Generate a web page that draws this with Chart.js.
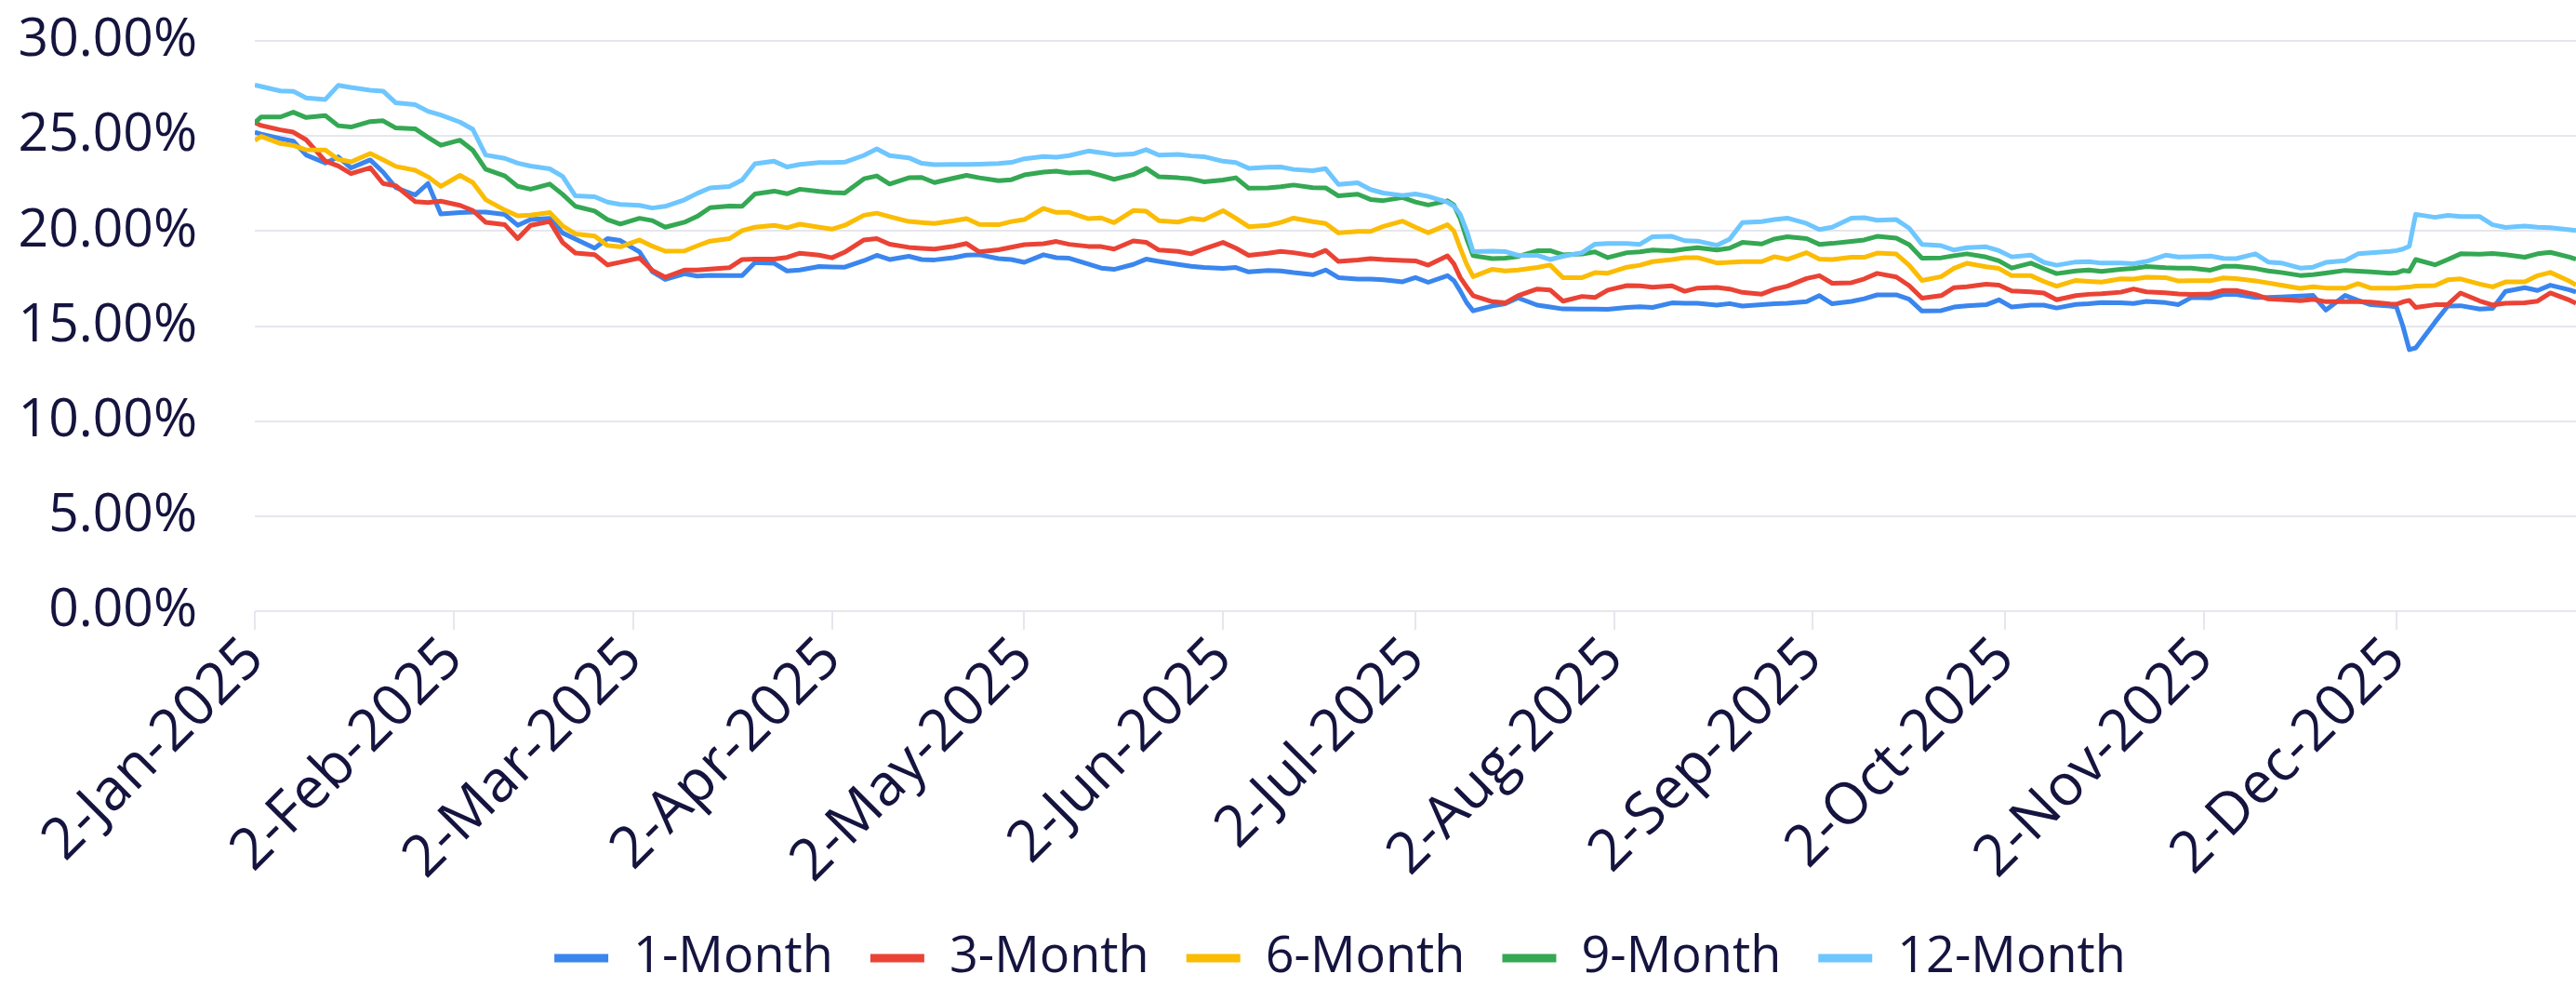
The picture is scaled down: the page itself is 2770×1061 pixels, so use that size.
<!DOCTYPE html>
<html>
<head>
<meta charset="utf-8">
<title>Rates 2025</title>
<script src="https://cdn.jsdelivr.net/npm/chart.js@4.4.1/dist/chart.umd.min.js"></script>
<style>
  html, body { margin: 0; padding: 0; background: #ffffff; }
  #wrap { width: 2770px; height: 1061px; position: relative; }
</style>
</head>
<body>
<div id="wrap"><canvas id="rateChart"></canvas></div>
<script>
// Observation dates (business days, sampled)
const dates = [
  '2025-01-02','2025-01-03','2025-01-06','2025-01-08','2025-01-10','2025-01-13','2025-01-15','2025-01-17','2025-01-20','2025-01-22',
  '2025-01-24','2025-01-27','2025-01-29','2025-01-31','2025-02-03','2025-02-05','2025-02-07','2025-02-10','2025-02-12','2025-02-14',
  '2025-02-17','2025-02-19','2025-02-21','2025-02-24','2025-02-26','2025-02-28','2025-03-03',
  '2025-03-05','2025-03-07','2025-03-10','2025-03-12','2025-03-14','2025-03-17','2025-03-19','2025-03-21','2025-03-24','2025-03-26',
  '2025-03-28','2025-03-31','2025-04-02','2025-04-04','2025-04-07','2025-04-09','2025-04-11','2025-04-14','2025-04-16','2025-04-18',
  '2025-04-21','2025-04-23','2025-04-25','2025-04-28','2025-04-30','2025-05-02',
  '2025-05-05','2025-05-07','2025-05-09','2025-05-12','2025-05-14','2025-05-16','2025-05-19','2025-05-21','2025-05-23','2025-05-26',
  '2025-05-28','2025-05-30','2025-06-02','2025-06-04','2025-06-06','2025-06-09','2025-06-11','2025-06-13','2025-06-16','2025-06-18',
  '2025-06-20','2025-06-23','2025-06-25','2025-06-27','2025-06-30','2025-07-02',
  '2025-07-04','2025-07-07','2025-07-08','2025-07-09','2025-07-10','2025-07-11','2025-07-14','2025-07-16','2025-07-18','2025-07-21',
  '2025-07-23','2025-07-25','2025-07-28','2025-07-30','2025-08-01','2025-08-04','2025-08-06','2025-08-08','2025-08-11','2025-08-13',
  '2025-08-15','2025-08-18','2025-08-20','2025-08-22','2025-08-25','2025-08-27','2025-08-29','2025-09-01',
  '2025-09-03','2025-09-05','2025-09-08','2025-09-10','2025-09-12','2025-09-15','2025-09-17','2025-09-19','2025-09-22','2025-09-24',
  '2025-09-26','2025-09-29','2025-10-01','2025-10-03','2025-10-06','2025-10-08','2025-10-10','2025-10-13','2025-10-15','2025-10-17',
  '2025-10-20','2025-10-22','2025-10-24','2025-10-27','2025-10-29','2025-10-31',
  '2025-11-03','2025-11-05','2025-11-07','2025-11-10','2025-11-12','2025-11-14','2025-11-17','2025-11-19','2025-11-21','2025-11-24',
  '2025-11-26','2025-11-28','2025-12-01','2025-12-02','2025-12-03','2025-12-04','2025-12-05','2025-12-08','2025-12-10','2025-12-12',
  '2025-12-15','2025-12-17','2025-12-19','2025-12-22','2025-12-24','2025-12-26','2025-12-29','2025-12-30'
];

// Rates in percent, one value per date
const oneMonth = [
  25.2, 25.1, 24.86, 24.73, 24.0, 23.58, 23.9, 23.32, 23.74, 23.1, 22.28, 21.9, 22.5, 20.9, 20.97, 21.0, 21.0, 20.87, 20.3, 20.6,
  20.67, 19.9, 19.58, 19.1, 19.6, 19.5, 18.9,
  17.86, 17.45, 17.75, 17.63, 17.67, 17.65, 17.65, 18.34, 18.3, 17.9, 17.95, 18.13, 18.11, 18.1, 18.44, 18.72, 18.5, 18.67, 18.5, 18.48,
  18.6, 18.73, 18.75, 18.55, 18.5, 18.35,
  18.75, 18.6, 18.57, 18.26, 18.05, 17.98, 18.24, 18.52, 18.4, 18.24, 18.14, 18.08, 18.04, 18.08, 17.85, 17.92, 17.9, 17.81, 17.7, 17.95,
  17.55, 17.47, 17.47, 17.43, 17.33, 17.55,
  17.3, 17.65, 17.39, 16.84, 16.23, 15.8, 16.06, 16.17, 16.48, 16.1, 16.0, 15.9, 15.89, 15.89, 15.88, 15.98, 16.02, 15.98, 16.22, 16.2,
  16.2, 16.1, 16.18, 16.05, 16.12, 16.17, 16.2, 16.28,
  16.6, 16.17, 16.3, 16.44, 16.64, 16.64, 16.41, 15.79, 15.81, 16.0, 16.06, 16.12, 16.38, 16.0, 16.1, 16.1, 15.95, 16.14, 16.17, 16.24,
  16.22, 16.19, 16.3, 16.23, 16.13, 16.5,
  16.48, 16.66, 16.66, 16.5, 16.5, 16.53, 16.58, 16.61, 15.84, 16.61, 16.35, 16.12, 16.05, 16.0, 15.0, 13.76, 13.85, 15.2, 16.05, 16.07,
  15.89, 15.93, 16.82, 17.02, 16.87, 17.15, 16.9, 16.79
];
const threeMonth = [
  25.7, 25.55, 25.32, 25.2, 24.8, 23.68, 23.42, 23.02, 23.33, 22.5, 22.38, 21.55, 21.5, 21.57, 21.35, 21.08, 20.46, 20.33, 19.6, 20.3,
  20.5, 19.4, 18.84, 18.76, 18.22, 18.36, 18.58,
  17.93, 17.57, 17.95, 17.95, 18.0, 18.07, 18.5, 18.52, 18.52, 18.61, 18.83, 18.73, 18.59, 18.89, 19.53, 19.6, 19.31, 19.14, 19.09, 19.05,
  19.2, 19.34, 18.9, 19.01, 19.15, 19.28,
  19.33, 19.45, 19.3, 19.19, 19.18, 19.05, 19.48, 19.41, 19.0, 18.93, 18.8, 19.06, 19.4, 19.1, 18.72, 18.83, 18.93, 18.86, 18.7, 18.98,
  18.4, 18.47, 18.55, 18.5, 18.45, 18.43,
  18.2, 18.69, 18.27, 17.55, 17.06, 16.6, 16.28, 16.22, 16.6, 16.95, 16.9, 16.31, 16.56, 16.5, 16.89, 17.13, 17.12, 17.04, 17.12, 16.83,
  17.0, 17.03, 16.95, 16.77, 16.68, 16.94, 17.1, 17.5,
  17.65, 17.25, 17.28, 17.48, 17.77, 17.58, 17.13, 16.47, 16.6, 17.02, 17.07, 17.2, 17.15, 16.85, 16.8, 16.74, 16.38, 16.6, 16.67, 16.7,
  16.78, 16.95, 16.8, 16.75, 16.69, 16.67,
  16.69, 16.87, 16.87, 16.66, 16.43, 16.39, 16.33, 16.41, 16.28, 16.28, 16.29, 16.26, 16.16, 16.15, 16.27, 16.35, 15.98, 16.12, 16.13, 16.74,
  16.32, 16.11, 16.2, 16.22, 16.31, 16.74, 16.36, 16.2
];
const sixMonth = [
  24.77, 24.98, 24.6, 24.5, 24.27, 24.26, 23.77, 23.64, 24.08, 23.75, 23.4, 23.2, 22.85, 22.35, 22.93, 22.55, 21.65, 21.1, 20.8, 20.84,
  20.97, 20.27, 19.85, 19.73, 19.24, 19.17, 19.53,
  19.2, 18.94, 18.95, 19.22, 19.47, 19.6, 20.02, 20.2, 20.3, 20.17, 20.36, 20.2, 20.1, 20.3, 20.83, 20.94, 20.76, 20.5, 20.45, 20.4,
  20.54, 20.65, 20.35, 20.33, 20.5, 20.6,
  21.19, 20.98, 20.98, 20.65, 20.69, 20.44, 21.08, 21.04, 20.54, 20.47, 20.66, 20.59, 21.07, 20.67, 20.23, 20.3, 20.45, 20.68, 20.49, 20.4,
  19.9, 19.98, 19.98, 20.24, 20.52, 20.2,
  19.91, 20.33, 20.0, 19.09, 18.25, 17.6, 17.99, 17.9, 17.95, 18.08, 18.21, 17.55, 17.55, 17.81, 17.78, 18.1, 18.2, 18.39, 18.5, 18.6,
  18.6, 18.32, 18.35, 18.39, 18.39, 18.65, 18.51, 18.86,
  18.52, 18.5, 18.62, 18.62, 18.84, 18.79, 18.2, 17.4, 17.6, 18.04, 18.3, 18.12, 18.03, 17.65, 17.65, 17.35, 17.1, 17.4, 17.35, 17.31,
  17.48, 17.47, 17.57, 17.55, 17.37, 17.38,
  17.38, 17.53, 17.5, 17.37, 17.27, 17.15, 16.98, 17.07, 17.0, 16.99, 17.23, 17.0, 16.99, 16.99, 17.03, 17.05, 17.1, 17.13, 17.43, 17.48,
  17.21, 17.06, 17.32, 17.32, 17.65, 17.82, 17.36, 17.16
];
const nineMonth = [
  25.7, 26.0, 26.0, 26.25, 25.97, 26.07, 25.54, 25.47, 25.76, 25.8, 25.42, 25.38, 24.93, 24.51, 24.78, 24.25, 23.25, 22.9, 22.35, 22.2,
  22.47, 21.93, 21.3, 21.05, 20.6, 20.37, 20.67,
  20.55, 20.2, 20.46, 20.77, 21.23, 21.31, 21.3, 21.95, 22.1, 21.96, 22.2, 22.08, 22.02, 22.0, 22.75, 22.9, 22.47, 22.8, 22.82, 22.55,
  22.78, 22.93, 22.8, 22.65, 22.7, 22.95,
  23.1, 23.15, 23.05, 23.1, 22.92, 22.72, 22.97, 23.3, 22.85, 22.8, 22.74, 22.59, 22.68, 22.8, 22.25, 22.27, 22.33, 22.42, 22.28, 22.27,
  21.85, 21.94, 21.66, 21.6, 21.76, 21.53,
  21.37, 21.59, 21.37, 20.64, 19.6, 18.7, 18.55, 18.57, 18.66, 18.96, 18.97, 18.75, 18.79, 18.9, 18.6, 18.86, 18.9, 19.0, 18.95, 19.05,
  19.12, 19.0, 19.1, 19.4, 19.32, 19.58, 19.7, 19.6,
  19.3, 19.35, 19.45, 19.53, 19.72, 19.62, 19.28, 18.57, 18.59, 18.7, 18.8, 18.63, 18.43, 18.05, 18.31, 18.02, 17.76, 17.9, 17.95, 17.88,
  17.99, 18.03, 18.13, 18.07, 18.05, 18.05,
  17.94, 18.14, 18.14, 18.03, 17.9, 17.82, 17.66, 17.7, 17.79, 17.93, 17.89, 17.85, 17.78, 17.8, 17.92, 17.89, 18.5, 18.22, 18.5, 18.8,
  18.78, 18.82, 18.76, 18.62, 18.8, 18.88, 18.63, 18.52
];
const twelveMonth = [
  27.68, 27.6, 27.37, 27.35, 27.0, 26.92, 27.66, 27.55, 27.41, 27.36, 26.74, 26.65, 26.3, 26.1, 25.73, 25.35, 24.0, 23.82, 23.57, 23.42,
  23.27, 22.87, 21.85, 21.8, 21.52, 21.4, 21.35,
  21.21, 21.3, 21.64, 21.98, 22.27, 22.34, 22.68, 23.54, 23.67, 23.37, 23.5, 23.6, 23.6, 23.62, 23.98, 24.32, 23.97, 23.85, 23.56, 23.49,
  23.5, 23.5, 23.52, 23.55, 23.61, 23.8,
  23.92, 23.88, 23.97, 24.21, 24.12, 24.01, 24.05, 24.28, 23.99, 24.03, 23.95, 23.91, 23.67, 23.6, 23.3, 23.36, 23.37, 23.24, 23.17, 23.28,
  22.45, 22.54, 22.18, 22.0, 21.87, 21.95,
  21.82, 21.52, 21.31, 20.87, 20.0, 18.91, 18.94, 18.92, 18.72, 18.72, 18.5, 18.67, 18.86, 19.31, 19.34, 19.34, 19.3, 19.7, 19.72, 19.49,
  19.47, 19.25, 19.57, 20.44, 20.49, 20.6, 20.68, 20.4,
  20.08, 20.2, 20.68, 20.7, 20.57, 20.6, 20.15, 19.3, 19.23, 19.0, 19.12, 19.17, 18.97, 18.64, 18.73, 18.35, 18.2, 18.37, 18.39, 18.31,
  18.31, 18.28, 18.4, 18.73, 18.63, 18.65,
  18.68, 18.56, 18.55, 18.8, 18.37, 18.32, 18.05, 18.1, 18.35, 18.44, 18.8, 18.85, 18.93, 18.97, 19.05, 19.2, 20.88, 20.72, 20.82, 20.76,
  20.76, 20.33, 20.19, 20.26, 20.2, 20.17, 20.07, 20.03
];

const seriesLabels = ['1-Month', '3-Month', '6-Month', '9-Month', '12-Month'];
const seriesColors = ['#3a86ee', '#ea4335', '#fbbc04', '#34a853', '#6ec6ff'];

// x-axis ticks: the 2nd of every month
const tickDates = [
  '2025-01-02', '2025-02-02', '2025-03-02', '2025-04-02', '2025-05-02', '2025-06-02',
  '2025-07-02', '2025-08-02', '2025-09-02', '2025-10-02', '2025-11-02', '2025-12-02'
];
const monthNames = ['Jan', 'Feb', 'Mar', 'Apr', 'May', 'Jun', 'Jul', 'Aug', 'Sep', 'Oct', 'Nov', 'Dec'];

const DAY_MS = 86400000;
const startMs = Date.parse(dates[0]);
const toDay = d => Math.round((Date.parse(d) - startMs) / DAY_MS);
const fmtDate = d => {
  const t = new Date(Date.parse(d));
  return t.getUTCDate() + '-' + monthNames[t.getUTCMonth()] + '-' + t.getUTCFullYear();
};
const tickText = {};
tickDates.forEach(d => { tickText[toDay(d)] = fmtDate(d); });

const textColor = '#15143f';
const gridColor = '#e6e6ee';
const fontFamily = "'Open Sans', sans-serif";

// bottom legend sits a bit right of the canvas centre
const legendOffset = {
  id: 'legendOffset',
  afterLayout(chart) {
    chart.legend.left += 56;
    chart.legend.right += 56;
  }
};

function draw() {
  const allValues = [oneMonth, threeMonth, sixMonth, nineMonth, twelveMonth];
  const datasets = allValues.map((vals, i) => ({
    label: seriesLabels[i],
    data: dates.map((d, j) => ({ x: toDay(d), y: vals[j] })),
    borderColor: seriesColors[i],
    backgroundColor: seriesColors[i],
    borderWidth: 5,
    pointRadius: 0,
    tension: 0,
    borderJoinStyle: 'round',
    order: allValues.length - i
  }));

  new Chart(document.getElementById('rateChart'), {
    type: 'line',
    data: { datasets },
    plugins: [legendOffset],
    options: {
      responsive: true,
      maintainAspectRatio: false,
      animation: false,
      layout: { padding: { top: 44, right: 0, bottom: -6, left: 0 } },
      plugins: {
        tooltip: { enabled: false },
        legend: {
          position: 'bottom',
          labels: {
            font: { family: fontFamily, size: 54 },
            color: textColor,
            boxWidth: 58,
            boxHeight: 9,
            padding: 40,
            sort: (a, b) => a.datasetIndex - b.datasetIndex,
            // flat swatches, no outline
            generateLabels: chart =>
              Chart.defaults.plugins.legend.labels.generateLabels(chart)
                .map(item => ({ ...item, lineWidth: 0 }))
          }
        }
      },
      scales: {
        x: {
          type: 'linear',
          min: 0,
          max: toDay(dates[dates.length - 1]),
          afterBuildTicks: scale => {
            scale.ticks = tickDates.map(d => ({ value: toDay(d) }));
          },
          afterFit: scale => { scale.height = 306; },
          ticks: {
            autoSkip: false,
            minRotation: 45,
            maxRotation: 45,
            padding: -5,
            font: { family: fontFamily, size: 62 },
            color: textColor,
            callback: v => tickText[v] || ''
          },
          grid: { drawOnChartArea: false, drawTicks: true, tickLength: 20, color: gridColor, lineWidth: 2 },
          border: { display: false }
        },
        y: {
          min: 0,
          max: 30,
          afterFit: scale => {
            scale.width = 274;
            // the wide label gap should not push the plot down
            scale.paddingTop = 0;
            scale.paddingBottom = 0;
          },
          ticks: {
            stepSize: 5,
            padding: 62,
            font: { family: fontFamily, size: 57 },
            color: textColor,
            callback: v => v.toFixed(2) + '%'
          },
          grid: { color: gridColor, lineWidth: 2, drawTicks: false },
          border: { display: false }
        }
      }
    }
  });
}

document.fonts.load("54px 'Open Sans'").then(draw, draw);
</script>
</body>
</html>
